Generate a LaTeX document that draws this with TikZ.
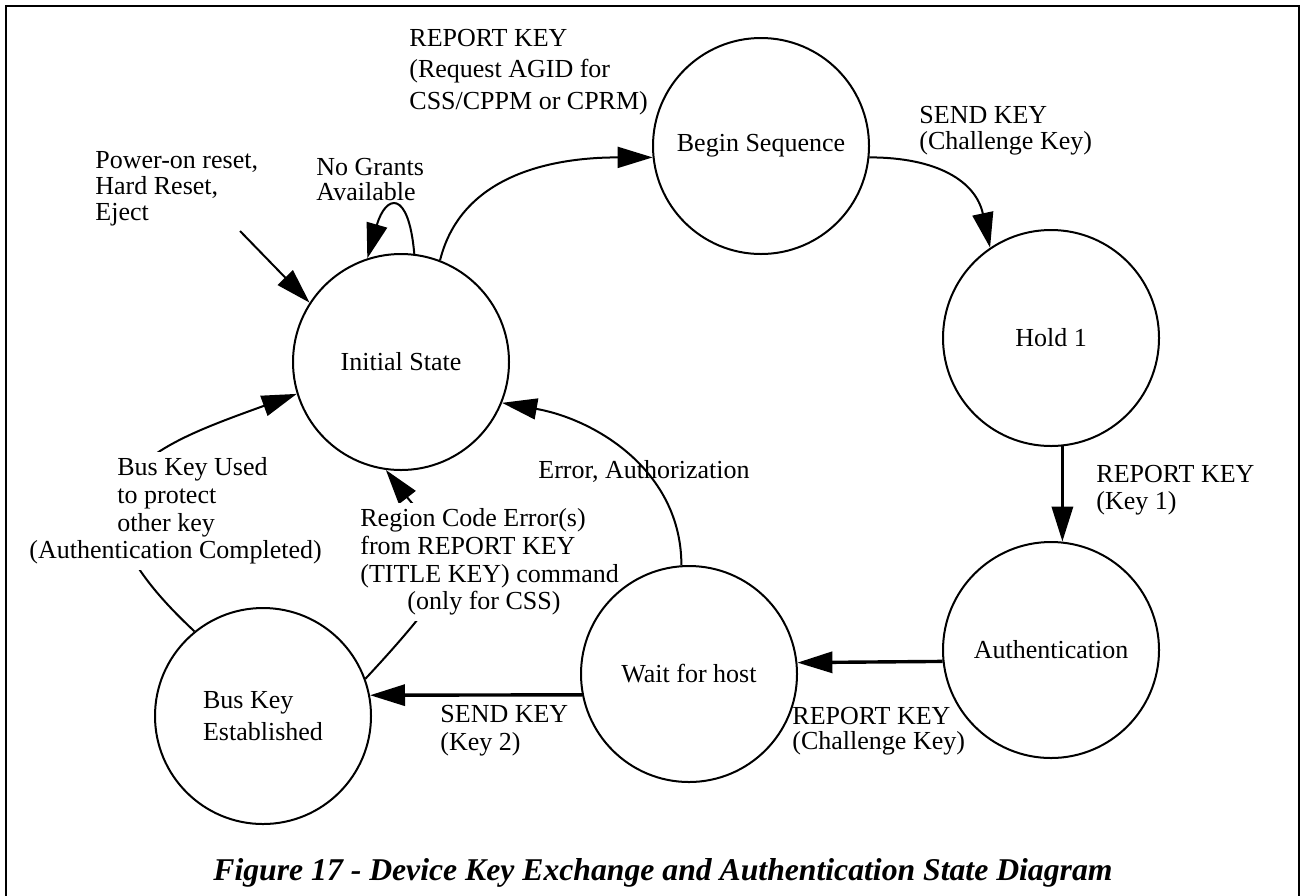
\documentclass[tikz,border=0pt]{standalone}
\usepackage{fontspec}
\setmainfont{Liberation Serif}
\usetikzlibrary{arrows.meta}
\pgfdeclarelayer{back}
\pgfsetlayers{back,main}

\tikzset{
  state/.style={draw,circle,line width=1pt,minimum size=108pt,inner sep=0pt,
    font=\fontsize{13}{16}\selectfont},
  lbl/.style={inner xsep=0pt,inner ysep=0pt,align=left,anchor=west,
    font=\fontsize{13}{#1}\selectfont},
  lbl/.default=13,
  arr/.style={line width=1pt,-{Triangle[length=17.5pt,width=10.5pt]}},
  thickarr/.style={arr,line width=1.7pt}
}

\begin{document}
\begin{tikzpicture}
\begin{scope}[x=0.5pt,y=0.5pt]
\useasboundingbox (0,0) rectangle (1304,-895);
\draw[line width=1.2pt] (6,-900) -- (6,-6) -- (1299,-6) -- (1299,-900);

\node[state] (init) at (401,-362) {Initial State};
\node[state] (seq) at (761,-146) {Begin Sequence};
\node[state] (hold) at (1051,-338) {Hold 1};
\node[state] (auth) at (1051,-650) {Authentication};
\node[state] (wait) at (689,-674) {Wait for host};
\node[state,align=left] (bus) at (263,-716) {Bus Key\\Established};

\begin{pgfonlayer}{back}
\coordinate (resetend) at (240,-231);
\draw[arr] (resetend) -- (init.147);
\draw[arr] (init.83) .. controls +(95:66) and +(74:66) .. (init.108);
\draw[arr] (init.69) to[out=76,in=180] (seq.186);
\draw[arr] (seq.354) to[out=0,in=102,looseness=1.15] (hold.124);
\draw[thickarr] (hold.-84) -- (auth.84);
\draw[thickarr] (auth.186.4) -- (wait.6.4);
\draw[thickarr] (wait.191.2) -- (bus.11.2);
\draw[arr] (wait.94) to[out=90,in=-10] (init.-22);
\draw[arr] (bus.129) .. controls +(137:215) and +(200:150) .. (init.197);
\draw[arr] (bus.20) .. controls +(47:200) and +(308:100) .. (init.262);

% labels that break the curves under them
\node[lbl=13.85,fill=white,inner ysep=3pt] (busused) at (29,-511)
  {\hspace*{44pt}Bus Key Used\\\hspace*{44pt}to protect\\\hspace*{44pt}other key\\(Authentication Completed)};
\node[lbl=13.85,fill=white,inner ysep=3pt] (region) at (360,-562)
  {Region Code Error(s)\\from REPORT KEY\\(TITLE KEY) command\\\hspace*{23.5pt}(only for CSS)};
\end{pgfonlayer}

\node[lbl=15.75] (reqagid) at (409,-72) {REPORT KEY\\(Request AGID for\\CSS/CPPM or CPRM)};
\node[lbl] (reset) at (95,-189) {Power-on reset,\\Hard Reset,\\Eject};
\node[lbl=12.5] (nogrant) at (316,-180) {No Grants\\Available};
\node[lbl] (sendch) at (919,-131) {SEND KEY\\(Challenge Key)};
\node[lbl=13.5] (repkey1) at (1096,-490) {REPORT KEY\\(Key 1)};
\node[lbl=12.5] (repch) at (792,-731) {REPORT KEY\\(Challenge Key)};
\node[lbl] (errauth) at (538,-471) {Error, Authorization};
\node[lbl=14] (sendkey2) at (440,-731) {SEND KEY\\(Key 2)};

\node[inner sep=0pt,anchor=base west,font=\fontsize{15.85}{18}\selectfont\bfseries\itshape] (caption)
  at (213,-880) {Figure 17 - Device Key Exchange and Authentication State Diagram};
\end{scope}
\end{tikzpicture}
\end{document}
